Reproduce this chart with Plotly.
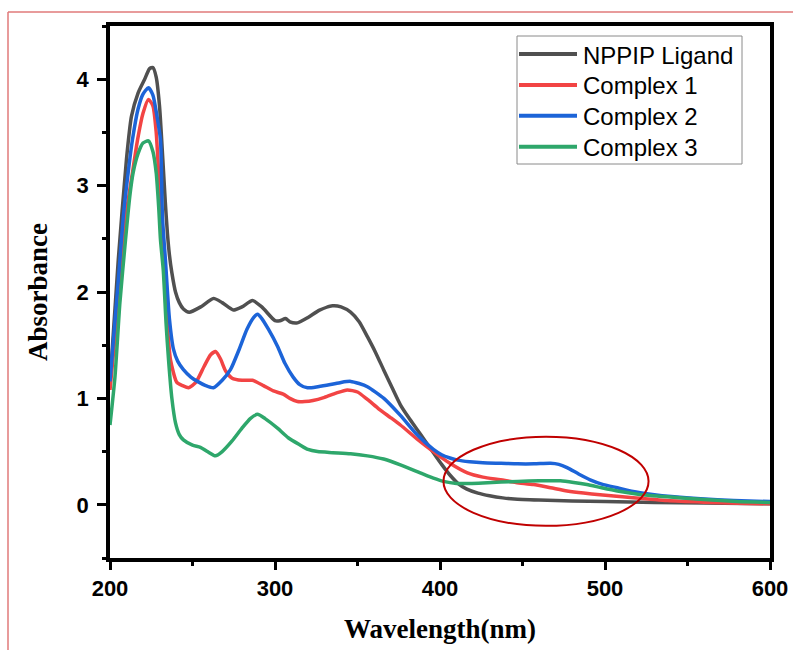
import plotly.graph_objects as go

# ---------------- data ----------------
series_names = ["NPPIP Ligand", "Complex 1", "Complex 2", "Complex 3"]
series_colors = ["#505050", "#f24444", "#1c64d8", "#2ea76b"]

ligand_wl = [200, 205, 210, 213, 217, 221, 224, 226, 228, 230, 232, 233.5, 234.8, 236, 237.5, 239.7, 242,
             244.5, 248, 255, 262.7, 268, 274.8, 280, 286.4, 292, 300, 303, 306.4, 309, 313.6, 320, 327,
             334.8, 340, 345.8, 351, 356, 361, 365.8, 371, 376, 381, 386, 391, 396, 401, 406, 411, 416,
             423, 430, 438, 445, 460, 480, 500, 530, 560, 600]
ligand_abs = [1.15, 2.3, 3.25, 3.65, 3.87, 4.0, 4.1, 4.11, 4.02, 3.75, 3.25, 2.85, 2.55, 2.35, 2.18, 2.0, 1.9,
              1.84, 1.81, 1.86, 1.94, 1.9, 1.83, 1.86, 1.92, 1.86, 1.73, 1.73, 1.75, 1.72, 1.71, 1.76, 1.83,
              1.87, 1.86, 1.81, 1.72, 1.58, 1.43, 1.27, 1.1, 0.94, 0.82, 0.71, 0.6, 0.49, 0.38, 0.28, 0.2, 0.15,
              0.11, 0.085, 0.065, 0.055, 0.045, 0.035, 0.03, 0.022, 0.016, 0.01]

c1_wl = [200, 205, 210, 213.6, 216.7, 220, 223.3, 226, 228, 229.5, 231, 232.4, 234.8, 236.7, 240.5, 244,
         247.6, 252, 257, 261, 264, 267, 270, 274, 280, 286.4, 293, 299, 305, 309, 313.6, 318, 323,
         330, 337, 343.8, 350, 356, 363, 370, 376, 386, 396, 406, 416.6, 426, 436.6, 446, 456.7, 467,
         477, 487, 497, 507, 517, 537.8, 560, 580, 600]
c1_abs = [1.08, 1.9, 2.75, 3.12, 3.43, 3.68, 3.81, 3.75, 3.5, 3.1, 2.6, 2.3, 1.68, 1.36, 1.15, 1.12,
          1.10, 1.15, 1.3, 1.41, 1.44, 1.37, 1.26, 1.19, 1.17, 1.17, 1.12, 1.07, 1.04, 1.0, 0.97, 0.97, 0.98,
          1.01, 1.05, 1.08, 1.06, 0.99, 0.9, 0.82, 0.75, 0.62, 0.5, 0.39, 0.30, 0.26, 0.235, 0.21, 0.19, 0.16,
          0.13, 0.11, 0.095, 0.08, 0.066, 0.04, 0.025, 0.015, 0.01]

c2_wl = [200, 205, 208, 211, 213.6, 217, 220, 223.3, 226, 228.5, 230.6, 231.8, 233.6, 236, 238.5, 241,
         244.5, 249, 253, 258, 262.7, 268, 273, 278, 283, 287, 289.4, 292, 296, 301.5, 306, 311, 315,
         319.7, 326, 333.6, 340, 345.8, 351, 356, 366, 376, 386, 396, 401, 406, 410.6, 418, 426, 437,
         447, 457, 467, 472, 477, 484, 491, 499, 507.5, 517, 527.6, 542, 557.9, 578, 600]
c2_abs = [1.16, 2.1, 2.7, 3.12, 3.43, 3.72, 3.86, 3.92, 3.85, 3.65, 3.43, 2.7, 2.3, 1.75, 1.46, 1.35,
          1.27, 1.2, 1.16, 1.12, 1.10, 1.17, 1.27, 1.45, 1.65, 1.76, 1.79, 1.75, 1.65, 1.49, 1.33, 1.20, 1.13,
          1.10, 1.11, 1.13, 1.15, 1.16, 1.14, 1.11, 1.0, 0.84, 0.66, 0.52, 0.47, 0.44, 0.42, 0.405, 0.395, 0.39,
          0.385, 0.385, 0.39, 0.38, 0.35, 0.29, 0.235, 0.19, 0.16, 0.125, 0.10, 0.075, 0.056, 0.04, 0.03]

c3_wl = [200, 203, 206, 209.4, 212, 214, 217, 220, 223.3, 226, 228, 229.5, 230.6, 232.3, 234, 235.5,
         237.5, 239.7, 242, 244.5, 250, 254.8, 259, 263.9, 268, 274, 280, 285, 289.4, 294, 301.5, 308,
         315.4, 320, 325.8, 335, 345.8, 356, 365.8, 376, 388, 396, 402, 410, 418, 426, 437, 447, 460,
         473, 481, 489, 498, 507.5, 520, 537.8, 560, 580, 600]
c3_abs = [0.75, 1.2, 1.9, 2.49, 2.9, 3.12, 3.3, 3.4, 3.42, 3.32, 3.12, 2.8, 2.49, 2.2, 1.7, 1.36,
          1.0, 0.77, 0.66, 0.61, 0.56, 0.54, 0.5, 0.46, 0.5, 0.6, 0.72, 0.81, 0.85, 0.81, 0.72, 0.63,
          0.56, 0.52, 0.5, 0.49, 0.48, 0.46, 0.43, 0.375, 0.30, 0.25, 0.22, 0.2, 0.2, 0.205, 0.215, 0.22, 0.225,
          0.225, 0.21, 0.19, 0.16, 0.13, 0.1, 0.075, 0.05, 0.032, 0.022]

x_ticks = [200, 300, 400, 500, 600]
y_ticks = [0, 1, 2, 3, 4]
x_range = [200, 600]
y_range = [-0.5, 4.5]
x_title = "Wavelength(nm)"
y_title = "Absorbance"

# highlighted region (ellipse) in data units
ellipse_x = [402.1, 526.4]
ellipse_y = [-0.198, 0.64]

# ---------------- figure ----------------
W, H = 793, 650
ML, MR, MT, MB = 110, 23, 26, 92
PW, PH = W - ML - MR, H - MT - MB

def px_x(p):  # page pixel -> paper
    return (p - ML) / PW

def px_y(p):
    return 1 - (p - MT) / PH

fig = go.Figure()
for name, col, xs, ys in zip(series_names, series_colors,
                             [ligand_wl, c1_wl, c2_wl, c3_wl],
                             [ligand_abs, c1_abs, c2_abs, c3_abs]):
    fig.add_trace(go.Scatter(x=xs, y=ys, mode="lines", name=name, showlegend=False,
                             line=dict(color=col, width=3.5, shape="spline", smoothing=0.6)))

tickfont = dict(family="Liberation Sans, Arial", size=22, color="black", weight="bold")
titlefont = dict(family="Liberation Serif, Times New Roman", size=27, color="black", weight="bold")

fig.update_xaxes(range=x_range, tickvals=x_ticks, ticks="outside", ticklen=8, tickwidth=3,
                 tickcolor="black", showline=True, linewidth=3.5, linecolor="black", mirror=True,
                 showgrid=False, zeroline=False, tickfont=tickfont,
                 minor=dict(dtick=50, ticks="outside", ticklen=4, tickwidth=3, tickcolor="black"),
                 title=dict(text=x_title, font=titlefont, standoff=20))
fig.update_yaxes(range=y_range, tickvals=y_ticks, ticks="outside", ticklen=9, tickwidth=3,
                 tickcolor="black", showline=True, linewidth=3.5, linecolor="black", mirror=True,
                 showgrid=False, zeroline=False, tickfont=tickfont, ticklabelstandoff=4,
                 minor=dict(dtick=0.5, ticks="outside", ticklen=4, tickwidth=3, tickcolor="black"),
                 title=dict(text=y_title, font=titlefont, standoff=22))

shapes = []
# highlight ellipse
shapes.append(dict(type="circle", xref="x", yref="y", x0=ellipse_x[0], x1=ellipse_x[1],
                   y0=ellipse_y[0], y1=ellipse_y[1], line=dict(color="#c00000", width=2)))
# outer thin red frame (image border)
shapes.append(dict(type="line", xref="paper", yref="paper", x0=px_x(8), x1=px_x(800),
                   y0=px_y(12), y1=px_y(12), line=dict(color="#e07a7a", width=1.5)))
shapes.append(dict(type="line", xref="paper", yref="paper", x0=px_x(8), x1=px_x(8),
                   y0=px_y(12), y1=px_y(660), line=dict(color="#e07a7a", width=1.5)))

# manual legend
leg_left, leg_right, leg_top, leg_bottom = 517, 742, 36, 164
shapes.append(dict(type="rect", xref="paper", yref="paper", x0=px_x(leg_left), x1=px_x(leg_right),
                   y0=px_y(leg_bottom), y1=px_y(leg_top), line=dict(color="#8a8a8a", width=1),
                   fillcolor="white", layer="above"))
annotations = []
row0, row_step = 54, 30.9
for i, (name, col) in enumerate(zip(series_names, series_colors)):
    yc = row0 + i * row_step
    shapes.append(dict(type="line", xref="paper", yref="paper", x0=px_x(519), x1=px_x(577),
                       y0=px_y(yc), y1=px_y(yc), line=dict(color=col, width=4), layer="above"))
    annotations.append(dict(xref="paper", yref="paper", x=px_x(581), y=px_y(yc + 1),
                            xanchor="left", yanchor="middle", text=name, showarrow=False,
                            font=dict(family="Liberation Sans, Arial", size=24, color="black")))

fig.update_layout(width=W, height=H, margin=dict(l=ML, r=MR, t=MT, b=MB, autoexpand=False),
                  plot_bgcolor="white", paper_bgcolor="white", shapes=shapes,
                  annotations=annotations, showlegend=False)

# remove the default 8px page margin so the figure fills the 793x650 window exactly
fig.write_html("out.html", config={"displayModeBar": False},
               post_script="document.body.style.margin='0';document.body.style.overflow='hidden';")
